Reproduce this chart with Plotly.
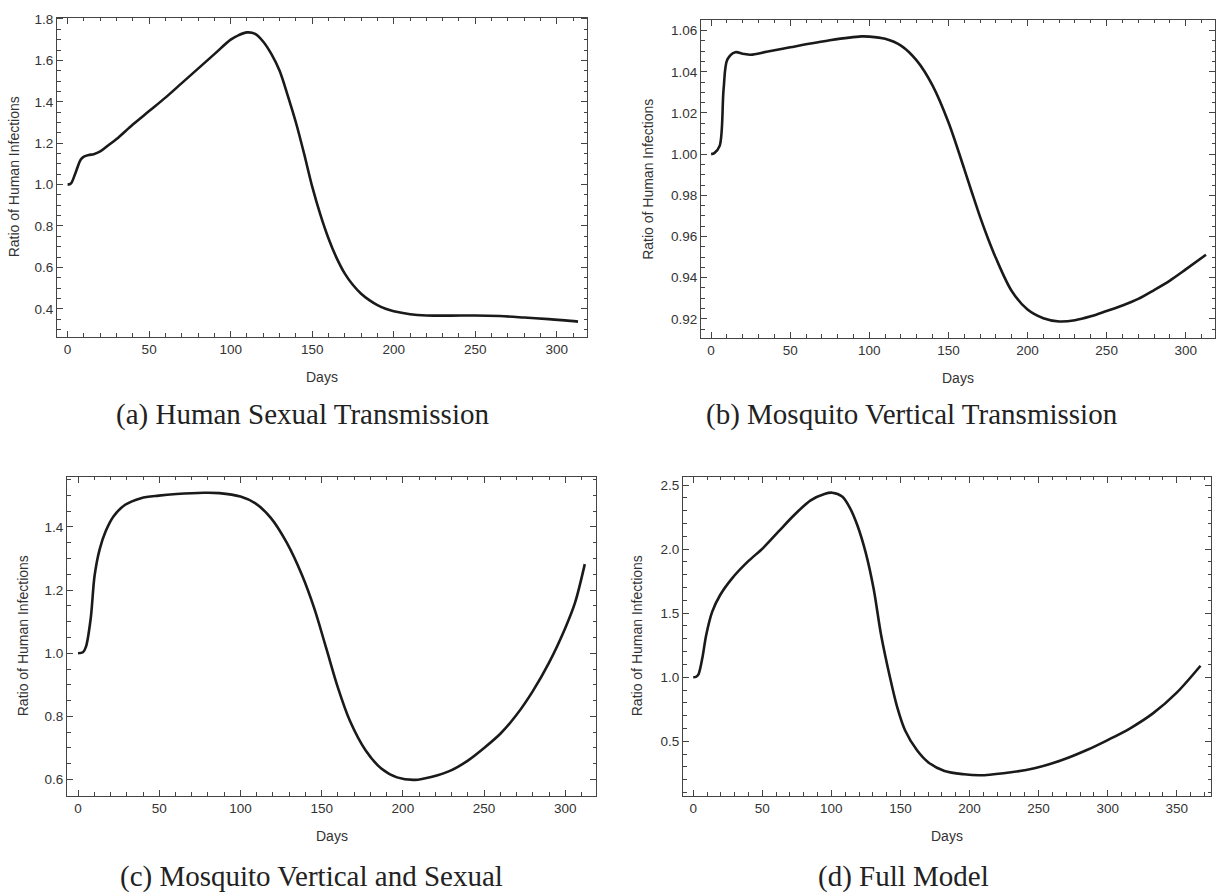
import plotly.graph_objects as go

W, H = 1221, 896

# (a) Human Sexual Transmission
days_a = [0, 2, 5, 8, 10, 13, 16, 20, 25, 30, 40, 50, 60, 70, 80, 90, 100, 105, 110, 115, 120,
          125, 130, 135, 140, 145, 150, 155, 160, 165, 170, 175, 180, 185, 190, 195, 200, 210,
          220, 235, 250, 265, 280, 295, 305, 313]
ratio_a = [1.0, 1.005, 1.06, 1.12, 1.135, 1.143, 1.147, 1.16, 1.19, 1.22, 1.29, 1.355, 1.42,
           1.49, 1.56, 1.63, 1.70, 1.722, 1.735, 1.728, 1.69, 1.63, 1.55, 1.43, 1.30, 1.15, 0.99,
           0.855, 0.74, 0.645, 0.57, 0.515, 0.473, 0.442, 0.418, 0.40, 0.388, 0.374, 0.368,
           0.367, 0.368, 0.365, 0.358, 0.35, 0.344, 0.338]

# (b) Mosquito Vertical Transmission
days_b = [0, 2, 5.4, 7.9, 10.3, 15.3, 20, 25, 35, 50, 75, 95, 100, 110, 120, 130, 140, 150, 160,
          165, 170, 175, 180, 190, 200, 210, 220, 230, 240, 250, 260, 270, 280, 290, 300, 312.8]
ratio_b = [1.0, 1.0005, 1.004, 1.0317, 1.046, 1.0495, 1.0488, 1.0483, 1.0497, 1.0519, 1.0553,
           1.0572, 1.0571, 1.056, 1.0527, 1.0454, 1.0333, 1.0155, 0.9928, 0.981, 0.9695, 0.959,
           0.9495, 0.9335, 0.9245, 0.9203, 0.9187, 0.9193, 0.9212, 0.9238, 0.9265, 0.9297,
           0.934, 0.9386, 0.944, 0.9511]

# (c) Mosquito Vertical and Sexual
days_c = [0, 3, 4.9, 7.8, 10.2, 13.3, 17, 21.8, 29, 38.8, 49.7, 60.6, 77.6, 87, 100, 109, 118.8,
          128.5, 138, 145.5, 152.8, 160, 167.3, 177, 186.7, 196.4, 207.3, 218, 230, 240, 250,
          260, 270, 280, 290, 300, 306, 312]
ratio_c = [1.0, 1.003, 1.021, 1.11, 1.246, 1.329, 1.386, 1.433, 1.47, 1.491, 1.499, 1.504, 1.508,
           1.507, 1.496, 1.475, 1.428, 1.35, 1.246, 1.141, 1.016, 0.891, 0.787, 0.693, 0.635,
           0.607, 0.599, 0.609, 0.63, 0.66, 0.70, 0.745, 0.805, 0.88, 0.97, 1.08, 1.16, 1.282]

# (d) Full Model
days_d = [0, 2, 3.7, 6.6, 9.4, 13.7, 19.4, 28, 39.3, 50.7, 62, 73.5, 85, 95, 100.6, 107.8, 113.5,
          119, 124.9, 130.6, 136, 142, 147.7, 153.4, 162, 170.5, 181.9, 196, 207.5, 224.6, 247,
          267, 284.5, 300, 316, 333, 350, 367.2]
ratio_d = [1.0, 1.003, 1.02, 1.15, 1.33, 1.51, 1.64, 1.77, 1.90, 2.01, 2.14, 2.27, 2.38, 2.43,
           2.44, 2.41, 2.32, 2.18, 1.97, 1.69, 1.33, 1.02, 0.765, 0.585, 0.43, 0.333, 0.269,
           0.243, 0.235, 0.251, 0.29, 0.354, 0.43, 0.51, 0.60, 0.72, 0.88, 1.09]

captions = ["(a) Human Sexual Transmission", "(b) Mosquito Vertical Transmission",
            "(c) Mosquito Vertical and Sexual", "(d) Full Model"]
x_title = "Days"
y_title = "Ratio of Human Infections"

panels = [
    dict(x=days_a, y=ratio_a, box=(57, 587, 12, 333), xr=[-6.5, 318.5], yr=[0.265, 1.805],
         ydt=0.2, ymdt=0.05, y0=0.4, fmt=".1f", ytx=14, cap=(302, 411)),
    dict(x=days_b, y=ratio_b, box=(701, 1215, 14, 334), xr=[-6.4, 318.5], yr=[0.9108, 1.0652],
         ydt=0.02, ymdt=0.005, y0=0.92, fmt=".2f", ytx=648, cap=(912, 411)),
    dict(x=days_c, y=ratio_c, box=(67, 596, 474, 795), xr=[-6.8, 318.9], yr=[0.549, 1.5585],
         ydt=0.2, ymdt=0.05, y0=0.6, fmt=".1f", ytx=23, cap=(311, 876)),
    dict(x=days_d, y=ratio_d, box=(683, 1211, 474, 795), xr=[-7.4, 374.8], yr=[0.076, 2.564],
         ydt=0.5, ymdt=0.1, y0=0.5, fmt=".1f", ytx=637, cap=(903, 876)),
]

fig = go.Figure()
annotations = []
tickfont = dict(family="Liberation Sans, Arial, sans-serif", size=13.5, color="#333333")
titlefont = dict(family="Liberation Sans, Arial, sans-serif", size=14, color="#333333")
frame = "#444444"

for i, p in enumerate(panels):
    n = "" if i == 0 else str(i + 1)
    l, r, t, b = p["box"]
    fig.add_trace(go.Scatter(x=p["x"], y=p["y"], mode="lines",
                             line=dict(color="#1a1a1a", width=2.6, shape="spline", smoothing=0.9),
                             xaxis="x" + n, yaxis="y" + n, showlegend=False, hoverinfo="skip"))
    common = dict(showgrid=False, zeroline=False, showline=True, linecolor=frame, linewidth=1,
                  mirror="allticks", ticks="inside", tickcolor=frame, tickwidth=1,
                  tickfont=tickfont)
    fig.layout["xaxis" + n] = dict(domain=[l / W, r / W], range=p["xr"], anchor="y" + n,
                                   tick0=0, dtick=50, ticklen=6,
                                   minor=dict(dtick=10, tick0=0, ticks="inside", ticklen=3.5,
                                              tickcolor=frame, showgrid=False),
                                   **common)
    fig.layout["yaxis" + n] = dict(domain=[1 - b / H, 1 - t / H], range=p["yr"], anchor="x" + n,
                                   tick0=p["y0"], dtick=p["ydt"], ticklen=6, tickformat=p["fmt"],
                                   minor=dict(dtick=p["ymdt"], tick0=p["y0"], ticks="inside",
                                              ticklen=3.5, tickcolor=frame, showgrid=False),
                                   **common)
    annotations.append(dict(text=y_title, x=p["ytx"] / W, y=1 - (t + b) / 2 / H, xref="paper",
                            yref="paper", textangle=-90, showarrow=False, font=titlefont,
                            xanchor="center", yanchor="middle"))
    annotations.append(dict(text=x_title, x=(l + r) / 2 / W, y=1 - (b + 41) / H, xref="paper",
                            yref="paper", showarrow=False, font=titlefont,
                            xanchor="center", yanchor="middle"))
    annotations.append(dict(text=captions[i], x=p["cap"][0] / W, y=1 - p["cap"][1] / H,
                            xref="paper", yref="paper", showarrow=False,
                            font=dict(family="Liberation Serif, Times New Roman, serif", size=29,
                                      color="#222222"),
                            xanchor="center", yanchor="middle"))

fig.update_layout(width=W, height=H, margin=dict(l=0, r=0, t=0, b=0),
                  paper_bgcolor="white", plot_bgcolor="white", annotations=annotations)

fig.write_html("out.html", config={"displayModeBar": False},
               post_script="document.body.style.margin='0';")
